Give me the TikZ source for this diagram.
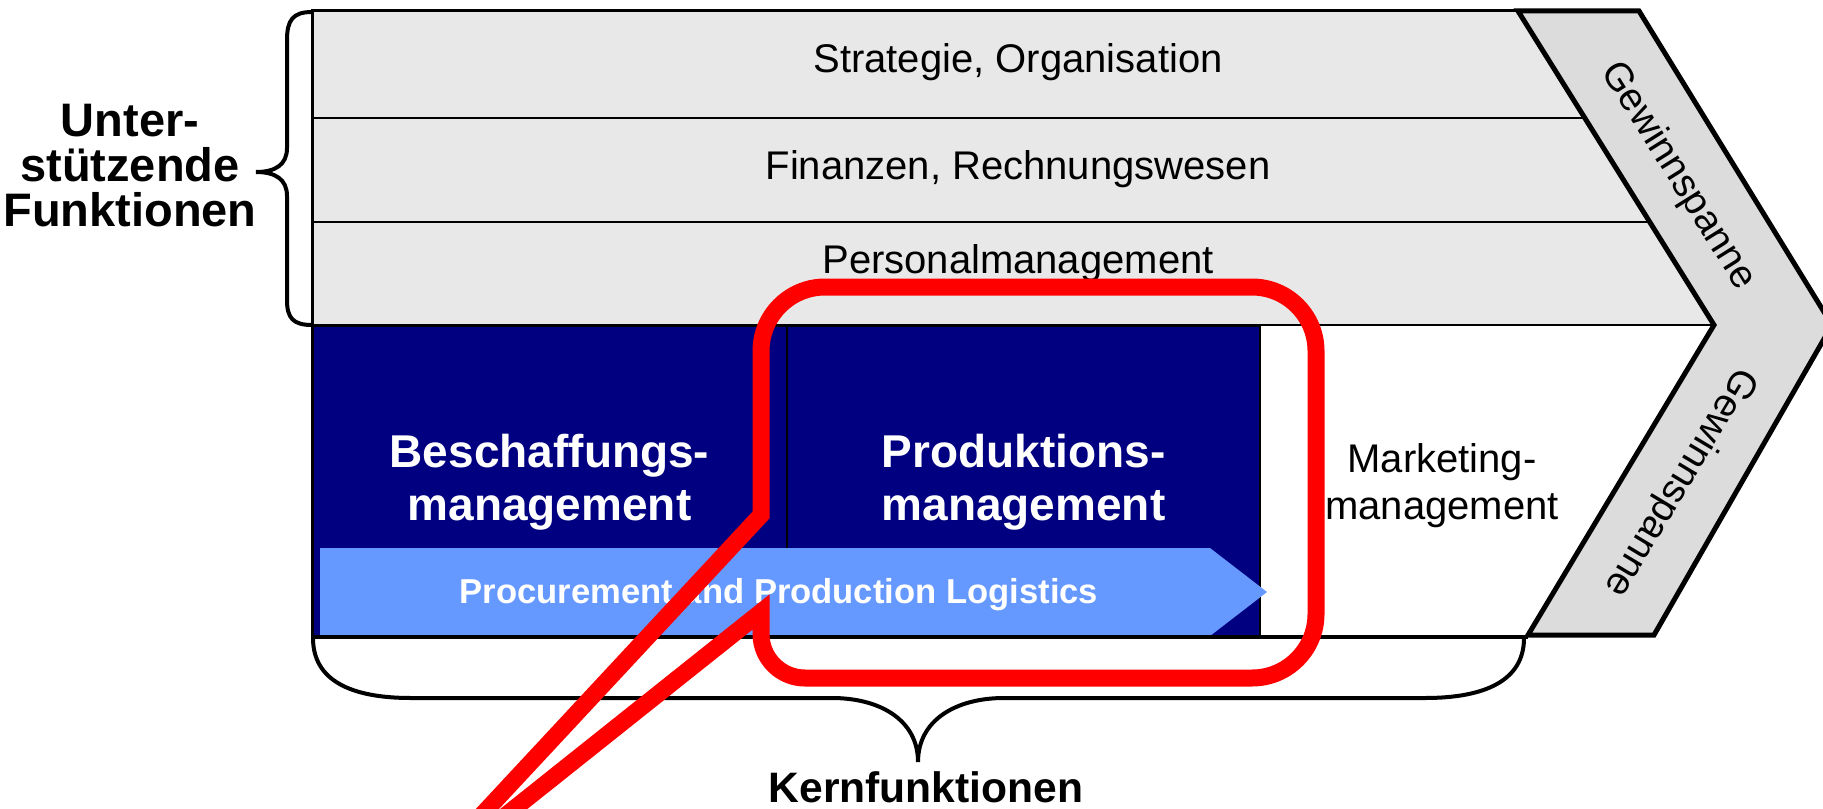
\documentclass[tikz,border=0pt]{standalone}
\usepackage{fontspec}
\setmainfont{Liberation Sans}
\usepackage{tikz}
\usetikzlibrary{positioning}

\definecolor{bandgray}{HTML}{E8E8E8}
\definecolor{margingray}{HTML}{DCDCDC}
\definecolor{coreblue}{HTML}{000080}
\definecolor{flowblue}{HTML}{6699FF}

\begin{document}
\begin{tikzpicture}[x=0.5pt, y=-0.5pt,
    row text/.style={font=\fontsize{20}{23.5}\selectfont, anchor=base},
    core box/.style={fill=coreblue, draw=black, line width=0.6pt,
      text=white, align=center, inner sep=0pt,
      font=\fontsize{23}{26.5}\selectfont\bfseries},
    margin text/.style={font=\fontsize{19.5}{20}\selectfont},
    head text/.style={font=\fontsize{23.5}{22.5}\selectfont\bfseries},
    outline/.style={draw=black, line width=2.5pt, line join=miter},
    brace line/.style={draw=black, line width=2pt},
    callout line/.style={draw=red, line width=8.5pt}]

  \useasboundingbox (0,0) rectangle (1823,808);

  % support functions
  \fill[bandgray] (312,11) -- (1518,11) -- (1714,325) -- (312,325) -- cycle;
  \draw[line width=1pt] (312,118) -- (1585,118) (312,222) -- (1650,222);
  \node[row text] (strat) at (1018,73) {Strategie, Organisation};
  \node[row text] (fin) at (1018,179) {Finanzen, Rechnungswesen};
  \node[row text] (pers) at (1018,273) {Personalmanagement};

  % core functions
  \node[core box, minimum width=237.5pt, minimum height=156pt]
    (besch) at (549.5,482) {Beschaffungs-\\management};
  \node[core box, minimum width=236.5pt, minimum height=156pt]
    (prod) at (1023.5,482) {Produktions-\\management};
  \fill[flowblue] (320,548) -- (1210,548) -- (1267,592) -- (1210,636)
    -- (320,636) -- cycle;
  \node[font=\fontsize{17.3}{20}\selectfont\bfseries, text=white, anchor=base]
    (logist) at (779,603) {Procurement and Production Logistics};
  \node[font=\fontsize{20}{23.5}\selectfont, align=center]
    (mark) at (1442,486) {Marketing-\\management};

  \draw[line width=1pt] (312,325) -- (1714,325);
  \draw[line width=2pt] (312,637) -- (1528,637);
  \draw[line width=1.5pt] (1518,11) -- (312,11) -- (312,637);

  % margin
  \draw[outline, fill=margingray] (1518,11) -- (1639,11) -- (1832,325)
    -- (1654,635) -- (1528,635) -- (1714,325) -- cycle;
  \node[margin text, rotate=-58] (gew-top) at (1678,176) {Gewinnspanne};
  \node[margin text, rotate=-121] (gew-bottom) at (1680,482) {Gewinnspanne};

  % braces
  \draw[brace line] (312,12) .. controls (293,12) and (287,20) .. (287,40)
    -- (287,148) .. controls (287,165) and (275,172) .. (256,172)
    .. controls (275,172) and (287,179) .. (287,196)
    -- (287,300) .. controls (287,318) and (293,325) .. (312,325);
  \node[head text, align=center] (unter) at (130,166) {Unter-\\stützende\\Funktionen};
  \draw[brace line] (313,638) .. controls (313,680) and (350,698) .. (411,698)
    -- (832,698) .. controls (880,698) and (918,720) .. (918,762)
    .. controls (918,720) and (956,698) .. (1004,698)
    -- (1425,698) .. controls (1486,698) and (1524,680) .. (1524,638);
  \node[head text, font=\fontsize{21.3}{24}\selectfont\bfseries, anchor=base]
    (kern) at (926,802) {Kernfunktionen};

  % callout
  \draw[callout line] (761,612) [rounded corners=22pt] -- (761,678)
    [rounded corners=32pt] -- (1316,678) -- (1316,287) -- (761,287)
    [sharp corners] -- (761,515) -- (412,890) -- cycle;
\end{tikzpicture}
\end{document}
